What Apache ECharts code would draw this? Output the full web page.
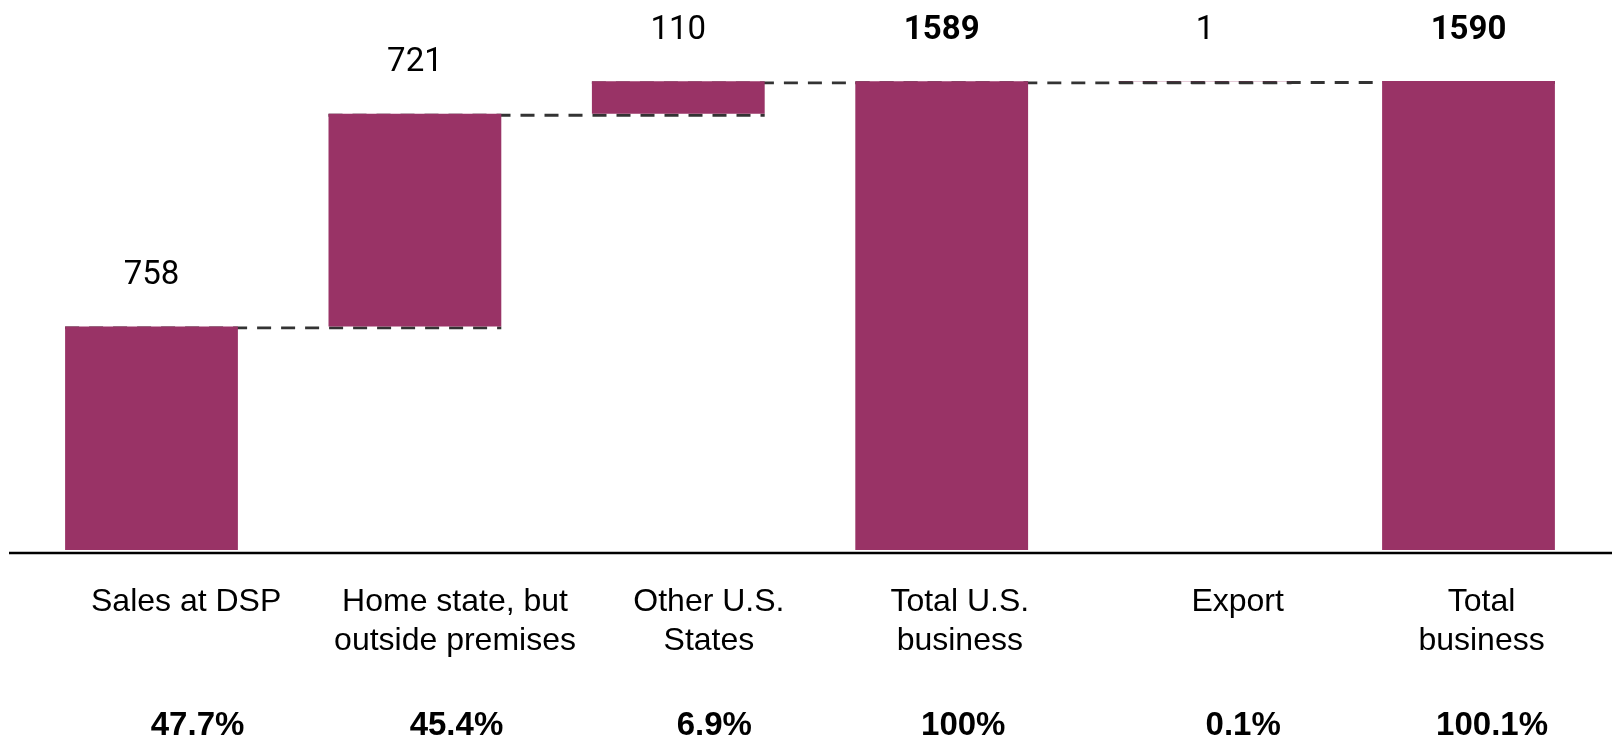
<!DOCTYPE html>
<html>
<head>
<meta charset="utf-8">
<script src="https://cdn.jsdelivr.net/npm/echarts@6/dist/echarts.min.js"></script>
<style>
html,body{margin:0;padding:0;background:#fff;}
#chart{width:1612px;height:737px;}
</style>
</head>
<body>
<div id="chart"></div>
<script>
// ---- data ----
const categories = ['Sales at DSP', 'Home state, but\noutside premises', 'Other U.S.\nStates', 'Total U.S.\nbusiness', 'Export', 'Total\nbusiness'];
const values = [758, 721, 110, 1589, 1, 1590];
const isTotal = [false, false, false, true, false, true];
const shares = ['47.7%', '45.4%', '6.9%', '100%', '0.1%', '100.1%'];

// ---- derived ----
const bases = [];
const tops = [];
let running = 0;
values.forEach((v, i) => {
  if (isTotal[i]) { bases.push(0); running = v; }
  else { bases.push(running); running += v; }
  tops.push(bases[i] + v);
});
const connectors = [];
for (let i = 0; i < values.length - 1; i++) connectors.push([i, tops[i]]);

// ---- styling ----
const GAP = 0.344;
const barColor = '#993366';
const catFont = { fontFamily: 'Liberation Sans, Arial, sans-serif', fontSize: 32, lineHeight: 39, color: '#000' };
const pctFont = { fontFamily: 'Liberation Sans, Arial, sans-serif', fontSize: 33, fontWeight: 'bold', lineHeight: 36, color: '#000' };
// small horizontal nudges (px) of each tick label, as in the original layout
const catNudge = [-2, 8, 3, -5, 14, -1];
const pctNudge = [4, 5, 5, -4, 18, 9];

function richFor(base, nudges) {
  const r = {};
  nudges.forEach((d, i) => {
    r['t' + i] = Object.assign({}, base, { padding: d >= 0 ? [0, 0, 0, 2 * d] : [0, -2 * d, 0, 0] });
  });
  return r;
}
function tagged(value, index) {
  return String(value).split('\n').map(l => '{t' + index + '|' + l + '}').join('\n');
}

const gridBase = { top: 81, bottom: 187, containLabel: false, outerBoundsMode: 'none' };

const chart = echarts.init(document.getElementById('chart'));
chart.setOption({
  animation: false,
  backgroundColor: '#fff',
  grid: [
    Object.assign({ left: 19.8, right: 11.8 }, gridBase),
    Object.assign({ left: 58.7, right: 0 }, gridBase),
    Object.assign({ left: 64.6, right: 0 }, gridBase)
  ],
  xAxis: [
    { type: 'category', gridIndex: 0, data: categories, axisLine: { show: false }, axisTick: { show: false }, axisLabel: { show: false } },
    { type: 'category', gridIndex: 1, data: categories, axisLine: { show: false }, axisTick: { show: false },
      axisLabel: Object.assign({ interval: 0, margin: 32.5, formatter: tagged, rich: richFor(catFont, catNudge) }, catFont) },
    { type: 'category', gridIndex: 2, data: shares, axisLine: { show: false }, axisTick: { show: false },
      axisLabel: Object.assign({ interval: 0, margin: 157.5, formatter: tagged, rich: richFor(pctFont, pctNudge) }, pctFont) }
  ],
  yAxis: [
    { type: 'value', gridIndex: 0, min: 0, max: 1590, show: false, splitLine: { show: false } },
    { type: 'value', gridIndex: 1, min: 0, max: 1590, show: false, splitLine: { show: false } },
    { type: 'value', gridIndex: 2, min: 0, max: 1590, show: false, splitLine: { show: false } }
  ],
  graphic: [
    { type: 'line', z: 10, shape: { x1: 9, y1: 553, x2: 1612, y2: 553 }, style: { stroke: '#000', lineWidth: 2.5 } }
  ],
  series: [
    {
      type: 'custom', xAxisIndex: 0, yAxisIndex: 0, z: 1,
      data: connectors,
      renderItem: function (params, api) {
        const i = api.value(0), v = api.value(1);
        const p0 = api.coord([i, v]);
        const p1 = api.coord([i + 1, v]);
        const bw = api.size([1, 0])[0] * (1 - GAP);
        return {
          type: 'line',
          shape: { x1: p0[0] - bw / 2, y1: p0[1] + 1.5, x2: p1[0] + bw / 2, y2: p0[1] + 1.5 },
          style: { stroke: '#333', lineWidth: 2.8, lineDash: [14, 10] }
        };
      }
    },
    {
      type: 'bar', stack: 'w', xAxisIndex: 0, yAxisIndex: 0, z: 2,
      barCategoryGap: (GAP * 100) + '%',
      itemStyle: { color: 'transparent' },
      data: bases, silent: true
    },
    {
      type: 'bar', stack: 'w', xAxisIndex: 0, yAxisIndex: 0, z: 3,
      barCategoryGap: (GAP * 100) + '%',
      itemStyle: { color: barColor },
      data: values.map((v, i) => ({
        value: v,
        label: { fontWeight: isTotal[i] ? 'bold' : 'normal' }
      })),
      label: {
        show: true, position: 'top', distance: 34,
        fontFamily: 'Roboto, sans-serif', fontSize: 33, lineHeight: 33, color: '#000',
        textBorderColor: '#fff', textBorderWidth: 3
      }
    }
  ]
});
</script>
</body>
</html>
